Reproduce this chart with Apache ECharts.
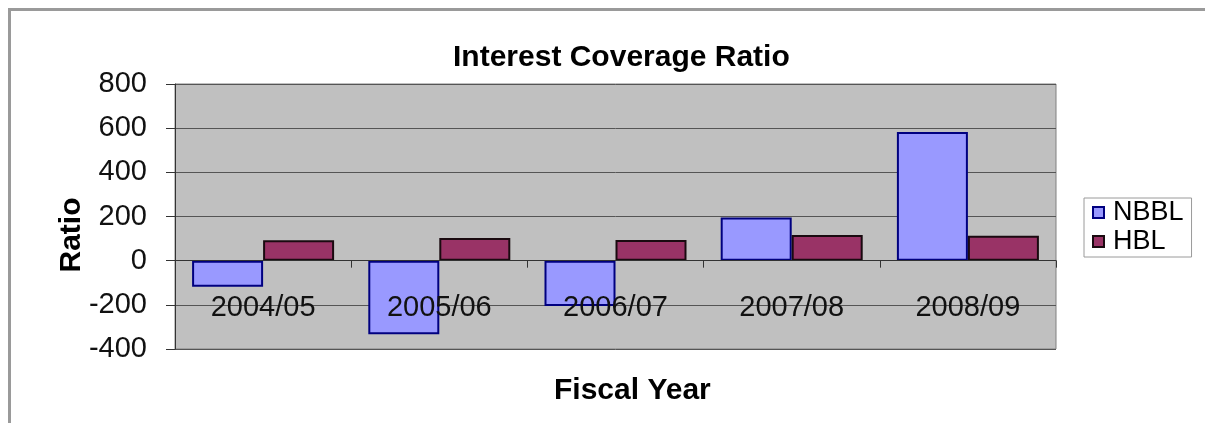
<!DOCTYPE html>
<html>
<head>
<meta charset="utf-8">
<script src="https://cdn.jsdelivr.net/npm/echarts@6/dist/echarts.min.js"></script>
<style>
html,body{margin:0;padding:0;background:#fff;}
#chart{width:1205px;height:423px;}
</style>
</head>
<body>
<div id="chart"></div>
<script>
const categories = ['2004/05', '2005/06', '2006/07', '2007/08', '2008/09'];
const nbbl = [-118, -333, -205, 195, 583];
const hbl = [92, 103, 94, 116, 113];
const seriesNames = ['NBBL', 'HBL'];
const yTicks = { min: -400, max: 800, interval: 200 };
const chartTitle = 'Interest Coverage Ratio';
const xName = 'Fiscal Year';
const yName = 'Ratio';

const FONT = '"Liberation Sans", Arial, sans-serif';
const chart = echarts.init(document.getElementById('chart'));
chart.setOption({
  animation: false,
  backgroundColor: '#ffffff',
  textStyle: { fontFamily: FONT },
  title: [
    { text: chartTitle, left: 448, top: 38,
      textStyle: { fontFamily: FONT, fontSize: 30, fontWeight: 'bold', color: '#000' } },
    { text: xName, left: 549, top: 371,
      textStyle: { fontFamily: FONT, fontSize: 30, fontWeight: 'bold', color: '#000' } }
  ],
  graphic: [
    { type: 'rect', shape: { x: 9.5, y: 9.5, width: 1400, height: 600 }, silent: true,
      style: { fill: 'none', stroke: '#9a9a9a', lineWidth: 3 } },
    { type: 'text', x: 72, y: 235, rotation: Math.PI / 2,
      style: { text: yName, font: 'bold 30px ' + FONT, fill: '#000', align: 'center', verticalAlign: 'middle' } }
  ],
  legend: {
    orient: 'vertical', left: 1084, top: 198,
    data: seriesNames,
    icon: 'rect', itemWidth: 11, itemHeight: 11, itemGap: 2,
    padding: [1, 8, 2, 8],
    borderColor: '#9a9a9a', borderWidth: 1,
    textStyle: { fontFamily: FONT, fontSize: 27, color: '#000', padding: [0, 0, 0, 4] }
  },
  grid: {
    left: 175, top: 84, width: 881, height: 265,
    show: true, backgroundColor: '#c0c0c0', borderColor: '#808080', borderWidth: 1,
    containLabel: false
  },
  xAxis: {
    type: 'category', data: categories, boundaryGap: true, z: 10,
    axisLine: { show: true, onZero: true, lineStyle: { color: '#333', width: 1 } },
    axisTick: { show: true, length: 7, inside: false, lineStyle: { color: '#333' } },
    axisLabel: { fontFamily: FONT, fontSize: 29, color: '#111', margin: -56 },
    splitLine: { show: false }
  },
  yAxis: {
    type: 'value', min: yTicks.min, max: yTicks.max, interval: yTicks.interval,
    axisLine: { show: true, lineStyle: { color: '#333', width: 1 } },
    axisTick: { show: true, length: 9, lineStyle: { color: '#333' } },
    axisLabel: { fontFamily: FONT, fontSize: 29, color: '#111', margin: 28 },
    splitLine: { show: true, lineStyle: { color: '#555', width: 1 } }
  },
  series: [
    { name: seriesNames[0], type: 'bar', data: nbbl, barWidth: 71, barGap: '0%',
      itemStyle: { color: '#9999ff', borderColor: '#000080', borderWidth: 2 } },
    { name: seriesNames[1], type: 'bar', data: hbl, barWidth: 71, barGap: '0%',
      itemStyle: { color: '#993366', borderColor: '#1a0a10', borderWidth: 2 } }
  ]
});
</script>
</body>
</html>
